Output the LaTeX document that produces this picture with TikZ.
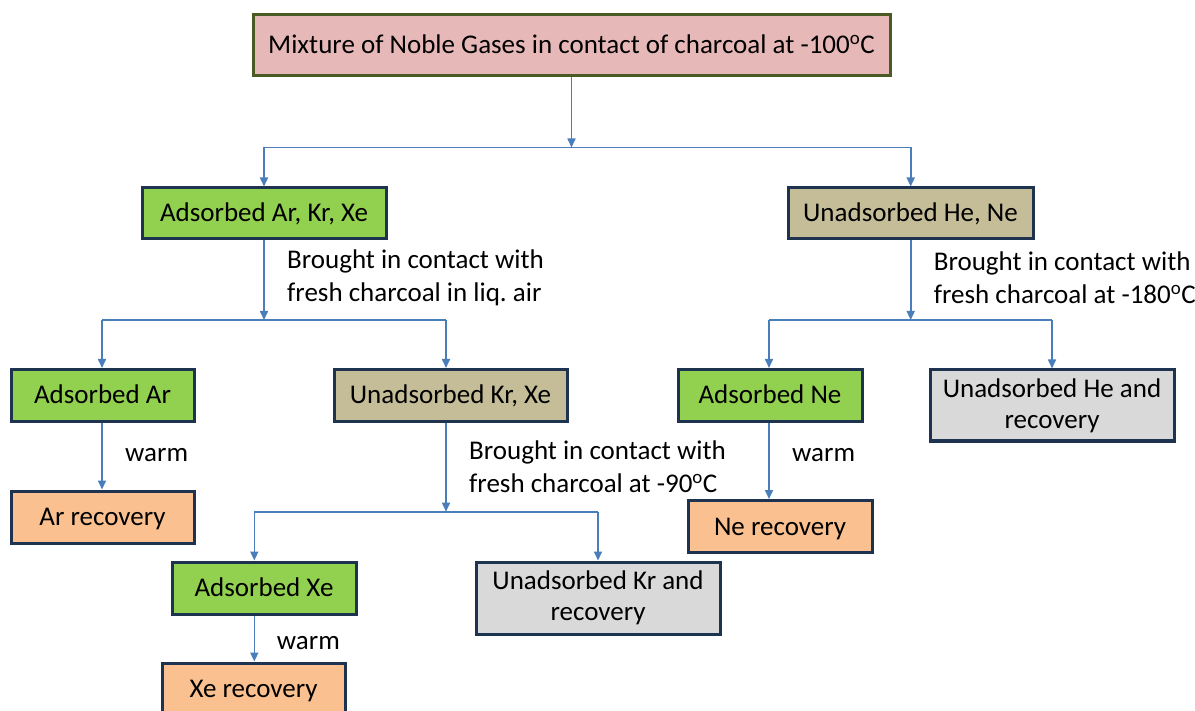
\documentclass[tikz,border=0pt]{standalone}
\usepackage{fontspec}
\setmainfont{Carlito}
\usetikzlibrary{arrows.meta}
\frenchspacing
\definecolor{conncol}{HTML}{4A7EBB}
\definecolor{boxline}{HTML}{1E3350}
\definecolor{topline}{HTML}{4A5A23}
\definecolor{pinkfill}{HTML}{E6B9B8}
\definecolor{greenfill}{HTML}{92D050}
\definecolor{tanfill}{HTML}{C4BD97}
\definecolor{grayfill}{HTML}{D9D9D9}
\definecolor{orangefill}{HTML}{FAC090}
\begin{document}
\begin{tikzpicture}[x=1pt,y=-1pt,
  box/.style={draw=boxline, line width=3pt, minimum height=52pt, inner sep=0pt, align=center, font=\fontsize{27}{31}\selectfont},
  one/.style={text height=17pt, text depth=0pt},
  arr/.style={draw=conncol, line width=1.6pt, -{Triangle[length=9pt,width=8pt]}},
  bar/.style={draw=conncol, line width=1.6pt},
  lbl/.style={anchor=base west, align=left, inner sep=0pt, font=\fontsize{27}{33}\selectfont}]
\clip (0,0) rectangle (1195,711);
\fill[white] (0,0) rectangle (1195,711);

% boxes
\node[box, one, draw=topline, fill=pinkfill, minimum width=637pt, minimum height=61pt] (top) at (571.5,45.5) {Mixture of Noble Gases in contact of charcoal at -100\textsuperscript{o}C};
\node[box, one, fill=greenfill, minimum width=244pt, minimum height=51pt] (aakx) at (264,213.5) {Adsorbed Ar, Kr, Xe};
\node[box, one, fill=tanfill, minimum width=245pt, minimum height=51pt] (uhn) at (910.5,213.5) {Unadsorbed He, Ne};
\node[box, one, fill=greenfill, minimum width=183pt] (aar) at (102.5,395.5) {Adsorbed Ar};
\node[box, one, fill=tanfill, minimum width=233pt] (ukx) at (450.5,395.5) {Unadsorbed Kr, Xe};
\node[box, one, fill=greenfill, minimum width=184pt] (ane) at (770,395.5) {Adsorbed Ne};
\node[box, fill=grayfill, minimum width=244pt, minimum height=71pt] (uher) at (1052,405.5) {Unadsorbed He and\\recovery};
\node[box, one, fill=orangefill, minimum width=183pt] (arrec) at (102.5,517) {Ar recovery};
\node[box, one, fill=orangefill, minimum width=184pt] (nerec) at (780,526.5) {Ne recovery};
\node[box, one, fill=greenfill, minimum width=184pt] (axe) at (264,588) {Adsorbed Xe};
\node[box, fill=grayfill, minimum width=244pt, minimum height=72pt] (ukr) at (598,598) {Unadsorbed Kr and\\recovery};
\node[box, one, fill=orangefill, minimum width=183pt, minimum height=51pt] (xerec) at (253.5,688.5) {Xe recovery};

% junction coordinates
\coordinate (j1) at (571.5,147.5);
\coordinate (j1l) at (264,147.5);
\coordinate (j1r) at (910.7,147.5);
\coordinate (j2) at (264,320);
\coordinate (j2l) at (102,320);
\coordinate (j2r) at (446,320);
\coordinate (j3) at (910.7,320);
\coordinate (j3l) at (769,320);
\coordinate (j3r) at (1052,320);
\coordinate (j4) at (446,511.7);
\coordinate (j4l) at (254.3,511.7);
\coordinate (j4r) at (598,511.7);

% connectors
\draw[arr] (top.south) -- (j1);
\draw[bar] (j1l) -- (j1r);
\draw[arr] (j1l) -- (aakx.north);
\draw[arr] (j1r) -- (j1r |- uhn.north);

\draw[arr] (aakx.south) -- (j2);
\draw[bar] (j2l) -- (j2r);
\draw[arr] (j2l) -- (j2l |- aar.north);
\draw[arr] (j2r) -- (j2r |- ukx.north);

\draw[arr] (j3 |- uhn.south) -- (j3);
\draw[bar] (j3l) -- (j3r);
\draw[arr] (j3l) -- (j3l |- ane.north);
\draw[arr] (j3r) -- (j3r |- uher.north);

\draw[arr] (j2l |- aar.south) -- (j2l |- arrec.north);
\draw[arr] (j4 |- ukx.south) -- (j4);
\draw[bar] (j4l) -- (j4r);
\draw[arr] (j4l) -- (j4l |- axe.north);
\draw[arr] (j4r) -- (j4r |- ukr.north);
\draw[arr] (j3l |- ane.south) -- (j3l |- nerec.north);
\draw[arr] (j4l |- axe.south) -- (j4l |- xerec.north);

% labels (base anchor = baseline of the last line)
\node[lbl] (l1) at (287,302) {Brought in contact with\\fresh charcoal in liq. air};
\node[lbl] (l2) at (933.7,304) {Brought in contact with\\fresh charcoal at -180\textsuperscript{o}C};
\node[lbl] (l3) at (469,492.7) {Brought in contact with\\fresh charcoal at -90\textsuperscript{o}C};
\node[lbl] (w1) at (125,461.7) {warm};
\node[lbl] (w2) at (792,461) {warm};
\node[lbl] (w3) at (276.7,649.7) {warm};
\end{tikzpicture}
\end{document}
